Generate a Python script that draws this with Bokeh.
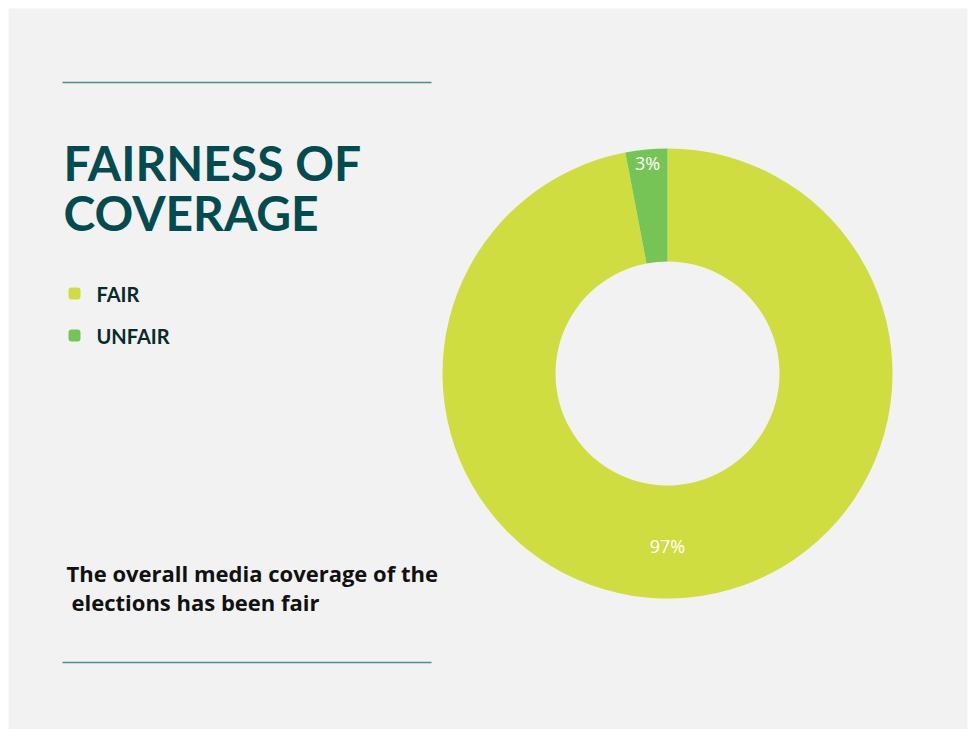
import math
from bokeh.plotting import figure
from bokeh.models import Range1d, ColumnDataSource
from bokeh.core.properties import value
from bokeh.embed import file_html
from bokeh.resources import INLINE

# Survey result: fairness of the media coverage of the elections
categories = ["FAIR", "UNFAIR"]
shares = [97, 3]
labels = ["97%", "3%"]
colors = ["#cfdd40", "#76c455"]
title_lines = ["FAIRNESS OF", "COVERAGE"]
caption_lines = ["The overall media coverage of the", " elections has been fair"]

W, H = 968, 729


def Y(py):
    """Convert a top-down pixel row into the figure's bottom-up y value."""
    return H - py


p = figure(width=W, height=H, x_range=Range1d(0, W), y_range=Range1d(0, H),
           output_backend="svg", toolbar_location=None, min_border=0)
p.axis.visible = False
p.grid.visible = False
p.outline_line_color = None
p.background_fill_color = "white"
p.border_fill_color = "white"

# light panel
p.quad(left=8, right=967, top=Y(8), bottom=Y(729), fill_color="#f2f2f2", line_color=None)

# thin rules above and below the text column
p.segment(x0=[62, 62], y0=[Y(82), Y(662)], x1=[431, 431], y1=[Y(82), Y(662)],
          line_color="#4f8c8e", line_width=1.5)

# donut: first slice starts at 12 o'clock and runs clockwise
cx, cy = 667, Y(373)
r_out, r_in = 225, 112
total = float(sum(shares))
starts, ends, mids = [], [], []
a = math.pi / 2
for s in shares:
    sweep = 2 * math.pi * s / total
    starts.append(a - sweep)
    ends.append(a)
    mids.append(a - sweep / 2)
    a -= sweep
src = ColumnDataSource(dict(start=starts, end=ends, color=colors))
p.annular_wedge(x=cx, y=cy, inner_radius=r_in, outer_radius=r_out,
                start_angle="start", end_angle="end", direction="anticlock",
                fill_color="color", line_color=None, source=src)

# percentage labels, the thin slice's label sits near the rim
label_r = [172, 211]
lx = [cx + r * math.cos(m) for r, m in zip(label_r, mids)]
ly = [cy + r * math.sin(m) for r, m in zip(label_r, mids)]
lx[0] = cx  # large slice label centred under the hole
ly[0] = cy - label_r[0]
p.text(x=lx, y=ly, text=labels, text_color="white", text_font=value("Open Sans"),
       text_font_size="18px", text_align="center", text_baseline="middle")

# title
p.text(x=[63, 63], y=[Y(162), Y(212)], text=title_lines, text_color="#024b50",
       text_font=value("Lato"), text_font_style="bold", text_font_size="48px",
       text_align="left", text_baseline="middle")

# legend
leg_y = [Y(293), Y(335)]
p.rect(x=[74, 74], y=leg_y, width=12, height=12, fill_color=colors, line_color=None,
       border_radius=3)
p.text(x=[96, 96], y=leg_y, text=categories, text_color="#082a2c",
       text_font=value("Lato"), text_font_style="bold", text_font_size="20px",
       text_align="left", text_baseline="middle")

# caption (second line is set slightly in from the first)
p.text(x=[66, 71], y=[Y(572), Y(601)], text=caption_lines, text_color="#111111",
       text_font=value("Open Sans"), text_font_style="bold", text_font_size="22px",
       text_align="left", text_baseline="middle")

open("out.html", "w").write(file_html(p, INLINE))
